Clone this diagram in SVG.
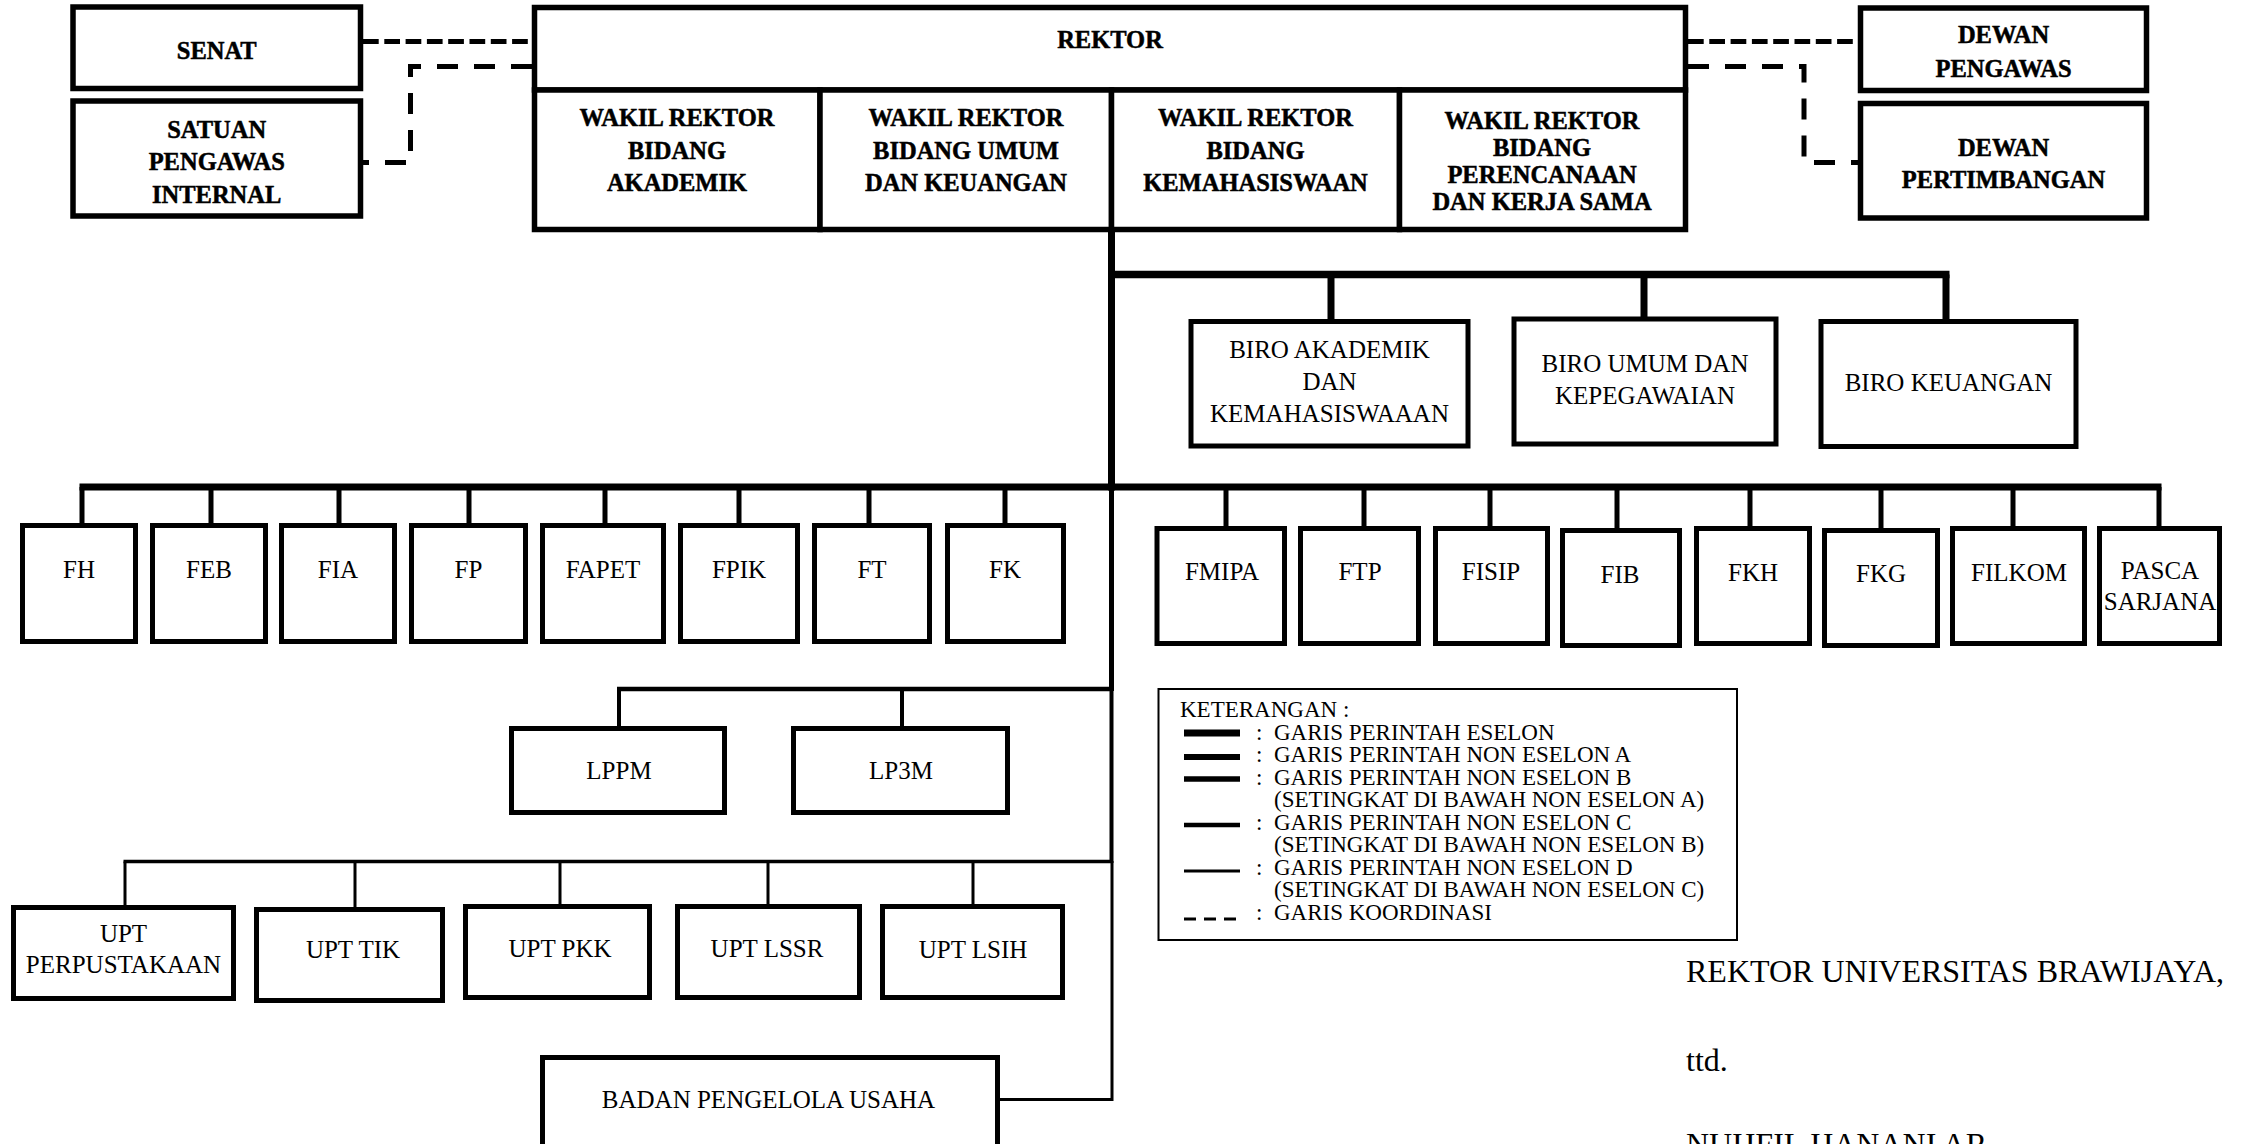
<svg xmlns="http://www.w3.org/2000/svg" width="2245" height="1144" viewBox="0 0 2245 1144">
  <style>
    .box { fill: #fff; stroke: #000; stroke-width: 5; }
    .top { stroke-width: 5.5; }
    .t { font-family: "Liberation Serif", "Times New Roman", serif; font-size: 25px; text-anchor: middle; fill: #000; }
    .b { font-weight: bold; font-size: 24.5px; stroke: #000; stroke-width: 0.5; }
    .ln { fill: none; stroke: #000; }
    .coord { fill: none; stroke: #000; stroke-width: 5; }
    .d1 { stroke-dasharray: 15.7 5.6; }
    .d2 { stroke-dasharray: 21 16; }
    .lg { font-family: "Liberation Serif", "Times New Roman", serif; font-size: 23px; fill: #000; }
    .sig { font-family: "Liberation Serif", "Times New Roman", serif; font-size: 32px; fill: #000; }
  </style>

  <rect x="0" y="0" width="2245" height="1144" fill="#fff"/>

  <!-- connectors -->
  <g id="connectors">
    <!-- coordination lines -->
    <path class="coord d1" d="M363 41.5 H534"/>
    <path class="coord d2" d="M532 66.5 H410.5 V162.5 H363"/>
    <path class="coord d1" d="M1688 41.5 H1860"/>
    <path class="coord d2" d="M1688 66.5 H1804 V162.5 H1860"/>

    <!-- main trunk -->
    <path class="ln" stroke-width="7" d="M1111.5 229.5 V490.5"/>
    <path class="ln" stroke-width="5" d="M1111.5 487 V691"/>
    <path class="ln" stroke-width="4" d="M1111.5 689 V863"/>
    <path class="ln" stroke-width="3" d="M997.5 1099.5 H1112 V861"/>

    <!-- biro level -->
    <path class="ln" stroke-width="7.5" d="M1108 274.5 H1949.5"/>
    <path class="ln" stroke-width="7" d="M1331 274.5 V321 M1644 274.5 V319 M1946 274.5 V321"/>

    <!-- faculty level -->
    <path class="ln" stroke-width="7" d="M79.5 487 H2161.5"/>
    <path class="ln" stroke-width="5" d="M82 487 V525 M211 487 V525 M339 487 V525 M469 487 V525 M605 487 V525 M739 487 V525 M869 487 V525 M1005 487 V525 M1226 487 V528 M1364 487 V528 M1490 487 V528 M1617 487 V530 M1750 487 V528 M1881 487 V530 M2013 487 V528 M2159 487 V528"/>

    <!-- institutes -->
    <path class="ln" stroke-width="4.5" d="M617 689 H1113"/>
    <path class="ln" stroke-width="4" d="M619 689 V728.5 M902 689 V728.5"/>

    <!-- technical units -->
    <path class="ln" stroke-width="3.5" d="M123.5 861.5 H1113"/>
    <path class="ln" stroke-width="3" d="M125 861.5 V907.5 M355 861.5 V909.5 M560 861.5 V906.5 M768 861.5 V906.5 M973 861.5 V906.5"/>
  </g>

  <!-- top level -->
  <g id="senat">
    <rect class="box top" x="73" y="7" width="287.5" height="81.5"/>
    <text class="t b" x="216.7" y="59">SENAT</text>
  </g>
  <g id="spi">
    <rect class="box top" x="73" y="101" width="287.5" height="115"/>
    <text class="t b" x="216.7" y="137.5">SATUAN</text>
    <text class="t b" x="216.7" y="170">PENGAWAS</text>
    <text class="t b" x="216.7" y="202.5">INTERNAL</text>
  </g>
  <g id="rektor">
    <rect class="box top" x="534.5" y="7.5" width="1151" height="82.5"/>
    <text class="t b" x="1110" y="48">REKTOR</text>
  </g>
  <g id="wr1">
    <rect class="box top" x="534.5" y="90" width="285.5" height="139.5"/>
    <text class="t b" x="677" y="126">WAKIL REKTOR</text>
    <text class="t b" x="677" y="158.5">BIDANG</text>
    <text class="t b" x="677" y="191">AKADEMIK</text>
  </g>
  <g id="wr2">
    <rect class="box top" x="820" y="90" width="291.5" height="139.5"/>
    <text class="t b" x="966" y="126">WAKIL REKTOR</text>
    <text class="t b" x="966" y="158.5">BIDANG UMUM</text>
    <text class="t b" x="966" y="191">DAN KEUANGAN</text>
  </g>
  <g id="wr3">
    <rect class="box top" x="1111.5" y="90" width="288" height="139.5"/>
    <text class="t b" x="1255.5" y="126">WAKIL REKTOR</text>
    <text class="t b" x="1255.5" y="158.5">BIDANG</text>
    <text class="t b" x="1255.5" y="191">KEMAHASISWAAN</text>
  </g>
  <g id="wr4">
    <rect class="box top" x="1399.5" y="90" width="286" height="139.5"/>
    <text class="t b" x="1542" y="128.5">WAKIL REKTOR</text>
    <text class="t b" x="1542" y="155.5">BIDANG</text>
    <text class="t b" x="1542" y="182.5">PERENCANAAN</text>
    <text class="t b" x="1542" y="209.5">DAN KERJA SAMA</text>
  </g>
  <g id="dewan-pengawas">
    <rect class="box top" x="1860.5" y="8" width="286" height="82.5"/>
    <text class="t b" x="2003.5" y="43">DEWAN</text>
    <text class="t b" x="2003.5" y="76.5">PENGAWAS</text>
  </g>
  <g id="dewan-pertimbangan">
    <rect class="box top" x="1860.5" y="103.5" width="286" height="114.5"/>
    <text class="t b" x="2003.5" y="156">DEWAN</text>
    <text class="t b" x="2003.5" y="188">PERTIMBANGAN</text>
  </g>

  <!-- bureaus -->
  <g id="biro-akademik">
    <rect class="box" x="1191" y="321.5" width="277" height="124.5"/>
    <text class="t" x="1329.5" y="358">BIRO AKADEMIK</text>
    <text class="t" x="1329.5" y="390">DAN</text>
    <text class="t" x="1329.5" y="422">KEMAHASISWAAAN</text>
  </g>
  <g id="biro-umum">
    <rect class="box" x="1514" y="319" width="262" height="125"/>
    <text class="t" x="1645" y="371.5">BIRO UMUM DAN</text>
    <text class="t" x="1645" y="404">KEPEGAWAIAN</text>
  </g>
  <g id="biro-keuangan">
    <rect class="box" x="1821" y="321.5" width="255" height="125"/>
    <text class="t" x="1948.5" y="391">BIRO KEUANGAN</text>
  </g>

  <!-- faculties -->
  <g id="fh"><rect class="box" x="22.5" y="525.5" width="113" height="116"/><text class="t" x="79" y="578">FH</text></g>
  <g id="feb"><rect class="box" x="152.5" y="525.5" width="113" height="116"/><text class="t" x="209" y="578">FEB</text></g>
  <g id="fia"><rect class="box" x="281.5" y="525.5" width="113" height="116"/><text class="t" x="338" y="578">FIA</text></g>
  <g id="fp"><rect class="box" x="411.5" y="525.5" width="114" height="116"/><text class="t" x="468.5" y="578">FP</text></g>
  <g id="fapet"><rect class="box" x="542.5" y="525.5" width="121" height="116"/><text class="t" x="603" y="578">FAPET</text></g>
  <g id="fpik"><rect class="box" x="680.5" y="525.5" width="117" height="116"/><text class="t" x="739" y="578">FPIK</text></g>
  <g id="ft"><rect class="box" x="814.5" y="525.5" width="115" height="116"/><text class="t" x="872" y="578">FT</text></g>
  <g id="fk"><rect class="box" x="947.5" y="525.5" width="116" height="116"/><text class="t" x="1005" y="578">FK</text></g>
  <g id="fmipa"><rect class="box" x="1157" y="528.5" width="127.5" height="115"/><text class="t" x="1222" y="580">FMIPA</text></g>
  <g id="ftp"><rect class="box" x="1300.5" y="528.5" width="118" height="115"/><text class="t" x="1360" y="580">FTP</text></g>
  <g id="fisip"><rect class="box" x="1435.5" y="528.5" width="112" height="115"/><text class="t" x="1491" y="580">FISIP</text></g>
  <g id="fib"><rect class="box" x="1562.5" y="530.5" width="117" height="115"/><text class="t" x="1620" y="583">FIB</text></g>
  <g id="fkh"><rect class="box" x="1696.5" y="528.5" width="113" height="115"/><text class="t" x="1753" y="581">FKH</text></g>
  <g id="fkg"><rect class="box" x="1824.5" y="530.5" width="113" height="115"/><text class="t" x="1881" y="582">FKG</text></g>
  <g id="filkom"><rect class="box" x="1952.5" y="528.5" width="132" height="115"/><text class="t" x="2019" y="581">FILKOM</text></g>
  <g id="pasca"><rect class="box" x="2099.5" y="528.5" width="120" height="115"/><text class="t" x="2160" y="579">PASCA</text><text class="t" x="2160" y="610">SARJANA</text></g>

  <!-- institutes -->
  <g id="lppm"><rect class="box" x="511.5" y="728.5" width="213" height="84"/><text class="t" x="619" y="779">LPPM</text></g>
  <g id="lp3m"><rect class="box" x="793.5" y="728.5" width="214" height="84"/><text class="t" x="901" y="779">LP3M</text></g>

  <!-- technical units -->
  <g id="upt-perpustakaan"><rect class="box" x="13.5" y="907.5" width="220" height="91"/><text class="t" x="123.5" y="942">UPT</text><text class="t" x="123.5" y="973">PERPUSTAKAAN</text></g>
  <g id="upt-tik"><rect class="box" x="256.5" y="909.5" width="186" height="91"/><text class="t" x="353" y="958">UPT TIK</text></g>
  <g id="upt-pkk"><rect class="box" x="465.5" y="906.5" width="184" height="91"/><text class="t" x="560" y="957">UPT PKK</text></g>
  <g id="upt-lssr"><rect class="box" x="677.5" y="906.5" width="182" height="91"/><text class="t" x="767" y="957">UPT LSSR</text></g>
  <g id="upt-lsih"><rect class="box" x="882.5" y="906.5" width="180" height="91"/><text class="t" x="973" y="958">UPT LSIH</text></g>

  <!-- business unit -->
  <g id="bpu"><rect class="box" x="542.5" y="1057.5" width="455" height="100"/><text class="t" x="768.5" y="1108">BADAN PENGELOLA USAHA</text></g>

  <!-- legend -->
  <g id="keterangan">
    <rect x="1158.5" y="689" width="578.5" height="251" fill="#fff" stroke="#000" stroke-width="2"/>
    <path class="ln" stroke-width="7" d="M1184 733 H1240"/>
    <path class="ln" stroke-width="6" d="M1184 757 H1240"/>
    <path class="ln" stroke-width="5.5" d="M1184 779 H1240"/>
    <path class="ln" stroke-width="4.5" d="M1184 825 H1240"/>
    <path class="ln" stroke-width="3" d="M1184 871 H1240"/>
    <path class="ln" stroke-width="3" stroke-dasharray="12 8" d="M1184 919 H1236"/>
    <text class="lg" x="1180" y="717">KETERANGAN :</text>
    <text class="lg" x="1256" y="739.5">:</text>
    <text class="lg" x="1274" y="739.5">GARIS PERINTAH ESELON</text>
    <text class="lg" x="1256" y="762">:</text>
    <text class="lg" x="1274" y="762">GARIS PERINTAH NON ESELON A</text>
    <text class="lg" x="1256" y="784.5">:</text>
    <text class="lg" x="1274" y="784.5">GARIS PERINTAH NON ESELON B</text>
    <text class="lg" x="1274" y="807">(SETINGKAT DI BAWAH NON ESELON A)</text>
    <text class="lg" x="1256" y="829.5">:</text>
    <text class="lg" x="1274" y="829.5">GARIS PERINTAH NON ESELON C</text>
    <text class="lg" x="1274" y="852">(SETINGKAT DI BAWAH NON ESELON B)</text>
    <text class="lg" x="1256" y="874.5">:</text>
    <text class="lg" x="1274" y="874.5">GARIS PERINTAH NON ESELON D</text>
    <text class="lg" x="1274" y="897">(SETINGKAT DI BAWAH NON ESELON C)</text>
    <text class="lg" x="1256" y="919.5">:</text>
    <text class="lg" x="1274" y="919.5">GARIS KOORDINASI</text>
  </g>

  <!-- signature block -->
  <g id="signature">
    <text class="sig" x="1686" y="982">REKTOR UNIVERSITAS BRAWIJAYA,</text>
    <text class="sig" x="1686" y="1071">ttd.</text>
    <text class="sig" x="1686" y="1155">NUHFIL HANANI AR</text>
  </g>
</svg>
